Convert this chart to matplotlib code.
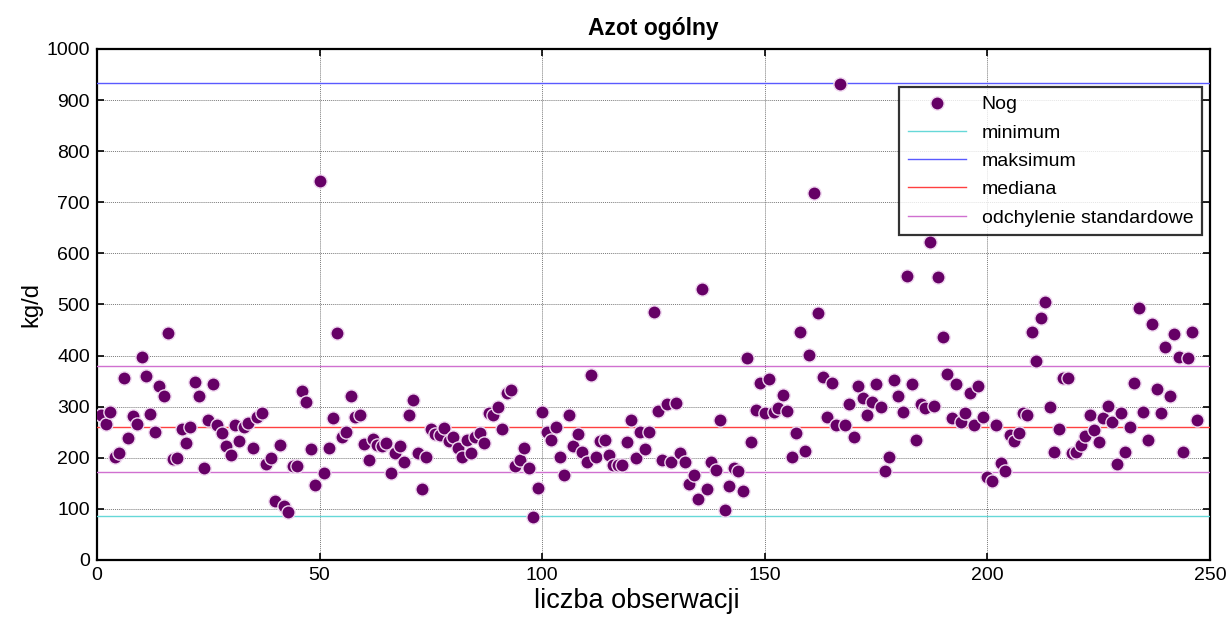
import matplotlib
matplotlib.use("Agg")
import matplotlib.pyplot as plt
import numpy as np

plt.rcParams['font.family'] = ['Liberation Sans', 'DejaVu Sans']

# Observed values of total nitrogen (kg/d), in observation order
nog = [283, 266, 289, 202, 209, 356, 238, 282, 266, 398, 361, 286, 250, 340, 320, 444,
       197, 199, 256, 228, 260, 349, 320, 181, 274, 344, 264, 249, 224, 205, 264, 232,
       261, 269, 219, 280, 287, 187, 199, 115, 226, 106, 93, 184, 184, 331, 310, 217,
       147, 742, 170, 220, 277, 444, 241, 251, 320, 280, 284, 227, 196, 236, 225,
       224, 228, 170, 209, 224, 192, 284, 314, 209, 139, 202, 256, 247, 245, 258, 233,
       241, 220, 202, 235, 209, 241, 249, 228, 287, 284, 300, 256, 326, 333, 183, 196,
       220, 181, 85, 141, 290, 250, 235, 260, 202, 166, 284, 224, 247, 211, 192, 362,
       202, 232, 235, 205, 186, 186, 186, 230, 274, 199, 250, 217, 250, 486, 292, 196,
       305, 192, 308, 209, 192, 149, 166, 119, 530, 139, 192, 177, 274, 98, 145, 181,
       174, 136, 395, 230, 294, 347, 287, 354, 290, 298, 323, 292, 202, 248, 447,
       214, 401, 718, 483, 359, 280, 346, 265, 932, 265, 305, 241, 340, 318, 284, 310,
       344, 299, 175, 202, 352, 320, 289, 556, 344, 235, 305, 298, 622, 301, 554, 437,
       364, 277, 344, 271, 287, 326, 264, 340, 279, 163, 155, 265, 189, 174, 245, 232,
       248, 287, 284, 446, 389, 473, 504, 299, 212, 256, 357, 357, 209, 212,
       225, 243, 284, 254, 230, 277, 301, 271, 187, 287, 211, 261, 347, 494, 289, 235,
       461, 335, 287, 416, 320, 442, 398, 211, 395, 447, 274]
obs = list(range(1, len(nog) + 1))

min_val = 87
max_val = 933
median_val = 260
std_low = 173
std_high = 380

x_ticks = [0, 50, 100, 150, 200, 250]
y_ticks = [0, 100, 200, 300, 400, 500, 600, 700, 800, 900, 1000]

W, H = 1229, 617
fig = plt.figure(figsize=(W / 100, H / 100), dpi=100)
ax = fig.add_axes([97 / W, 1 - 560 / H, (1210 - 97) / W, (560 - 49) / H])

ax.set_xlim(0, 250)
ax.set_ylim(0, 1000)
ax.set_xticks(x_ticks)
ax.set_yticks(y_ticks)
ax.grid(True, linestyle=(0, (1, 1)), color='#7a7a7a', linewidth=0.7)
ax.set_axisbelow(True)

ax.plot(obs, nog, 'o', ms=9.5, mfc='#660066', mec='#f0d8f0', mew=1.0,
        label='Nog', zorder=5, linestyle='none')
ax.axhline(min_val, color='#66d8d8', lw=1.0, label='minimum', zorder=3)
ax.axhline(max_val, color='#5a5aff', lw=1.0, label='maksimum', zorder=3)
ax.axhline(median_val, color='#ff4040', lw=1.0, label='mediana', zorder=3)
ax.axhline(std_high, color='#d070d0', lw=1.0, label='odchylenie standardowe', zorder=3)
ax.axhline(std_low, color='#d070d0', lw=1.0, zorder=3)

for s in ax.spines.values():
    s.set_linewidth(1.6)
    s.set_color('black')

ax.tick_params(direction='in', length=5, width=1.2, labelsize=14, top=True, right=True,
               pad=5)

ax.set_title('Azot ogólny', fontsize=16.5, fontweight='bold', pad=10)
ax.set_xlabel('liczba obserwacji', fontsize=19.5, labelpad=5)
ax.xaxis.set_label_coords(0.485, -0.055, transform=ax.transAxes)
ax.xaxis.label.set_va('top')
ax.set_ylabel('kg/d', fontsize=17, labelpad=3)

leg = ax.legend(loc='upper right', bbox_to_anchor=(0.9928, 0.9256), fontsize=14,
                frameon=True, fancybox=False, edgecolor='black', handlelength=3.0,
                borderaxespad=0, labelspacing=0.55, borderpad=0.45)
leg.get_frame().set_linewidth(1.6)

fig.savefig('out.png', dpi=100)
